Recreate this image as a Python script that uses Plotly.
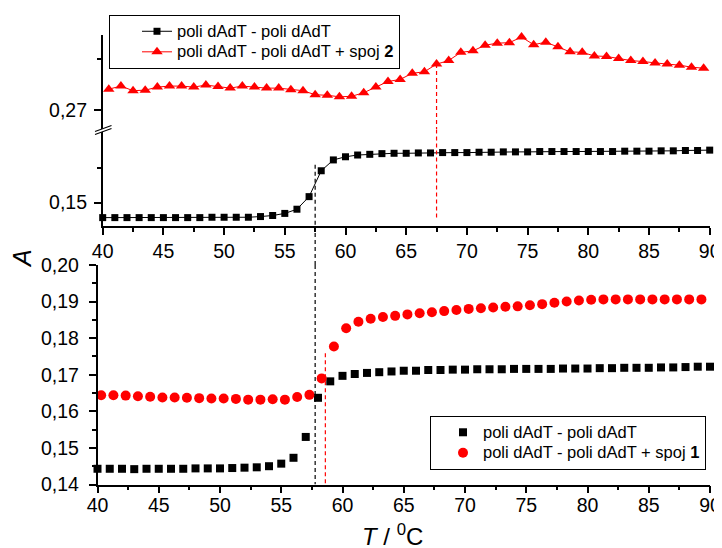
import plotly.graph_objects as go

# ---------------- data ----------------
# top panel: poli dAdT - poli dAdT (lower part of broken axis)
T_top_ds = [40, 41, 42, 43, 44, 45, 46, 47, 48, 49,
            50, 51, 52, 53, 54, 55, 56, 57, 58, 59,
            60, 61, 62, 63, 64, 65, 66, 67, 68, 69,
            70, 71, 72, 73, 74, 75, 76, 77, 78, 79,
            80, 81, 82, 83, 84, 85, 86, 87, 88, 89, 90]
A_top_ds = [0.1457, 0.1457, 0.1457, 0.1457, 0.1457, 0.1457, 0.1457, 0.1457, 0.1457, 0.1458,
            0.1458, 0.1458, 0.1458, 0.1460, 0.1463, 0.1469, 0.1481, 0.1517, 0.1591, 0.1622,
            0.1631, 0.1636, 0.1638, 0.1640, 0.1641, 0.1641, 0.1642, 0.1642, 0.1643, 0.1643,
            0.1643, 0.1644, 0.1644, 0.1645, 0.1645, 0.1645, 0.1646, 0.1646, 0.1646, 0.1646,
            0.1646, 0.1646, 0.1646, 0.1647, 0.1647, 0.1647, 0.1648, 0.1648, 0.1649, 0.1649, 0.1650]

# top panel: poli dAdT - poli dAdT + spoj 2 (upper part of broken axis)
T_top_c2 = [40.5, 41.5, 42.5, 43.5, 44.5, 45.5, 46.5, 47.5, 48.5, 49.5,
            50.5, 51.5, 52.5, 53.5, 54.5, 55.5, 56.5, 57.5, 58.5, 59.5,
            60.5, 61.5, 62.5, 63.5, 64.5, 65.5, 66.5, 67.5, 68.5, 69.5,
            70.5, 71.5, 72.5, 73.5, 74.5, 75.5, 76.5, 77.5, 78.5, 79.5,
            80.5, 81.5, 82.5, 83.5, 84.5, 85.5, 86.5, 87.5, 88.5, 89.5]
A_top_c2 = [0.2741, 0.2747, 0.2738, 0.2739, 0.2745, 0.2747, 0.2747, 0.2745, 0.2749, 0.2746,
            0.2743, 0.2747, 0.2745, 0.2743, 0.2743, 0.2740, 0.2738, 0.2730, 0.2729, 0.2726,
            0.2727, 0.2734, 0.2745, 0.2756, 0.2760, 0.2772, 0.2775, 0.2790, 0.2797, 0.2813,
            0.2816, 0.2827, 0.2831, 0.2832, 0.2843, 0.2828, 0.2833, 0.2824, 0.2814, 0.2813,
            0.2806, 0.2805, 0.2801, 0.2797, 0.2795, 0.2792, 0.2790, 0.2788, 0.2784, 0.2782]

# bottom panel: poli dAdT - poli dAdT
T_bot_ds = [40, 41, 42, 43, 44, 45, 46, 47, 48, 49,
            50, 51, 52, 53, 54, 55, 56, 57, 58, 59,
            60, 61, 62, 63, 64, 65, 66, 67, 68, 69,
            70, 71, 72, 73, 74, 75, 76, 77, 78, 79,
            80, 81, 82, 83, 84, 85, 86, 87, 88, 89, 90]
A_bot_ds = [0.1443, 0.1443, 0.1443, 0.1442, 0.1443, 0.1443, 0.1443, 0.1443, 0.1444, 0.1444,
            0.1444, 0.1445, 0.1446, 0.1447, 0.1450, 0.1457, 0.1473, 0.1530, 0.1637, 0.1682,
            0.1697, 0.1702, 0.1705, 0.1707, 0.1709, 0.1711, 0.1711, 0.1713, 0.1713, 0.1714,
            0.1714, 0.1715, 0.1715, 0.1715, 0.1716, 0.1716, 0.1716, 0.1716, 0.1717, 0.1717,
            0.1717, 0.1718, 0.1718, 0.1719, 0.1719, 0.1719, 0.1720, 0.1720, 0.1721, 0.1722, 0.1722]

# bottom panel: poli dAdT - poli dAdT + spoj 1
T_bot_c1 = [40.3, 41.3, 42.3, 43.3, 44.3, 45.3, 46.3, 47.3, 48.3, 49.3,
            50.3, 51.3, 52.3, 53.3, 54.3, 55.3, 56.3, 57.3, 58.3, 59.3,
            60.3, 61.3, 62.3, 63.3, 64.3, 65.3, 66.3, 67.3, 68.3, 69.3,
            70.3, 71.3, 72.3, 73.3, 74.3, 75.3, 76.3, 77.3, 78.3, 79.3,
            80.3, 81.3, 82.3, 83.3, 84.3, 85.3, 86.3, 87.3, 88.3, 89.3, 90.3]
A_bot_c1 = [0.1644, 0.1644, 0.1643, 0.1641, 0.1640, 0.1638, 0.1638, 0.1637, 0.1636, 0.1635,
            0.1635, 0.1634, 0.1632, 0.1632, 0.1633, 0.1632, 0.1639, 0.1645, 0.1690, 0.1777,
            0.1827, 0.1845, 0.1853, 0.1858, 0.1861, 0.1865, 0.1868, 0.1871, 0.1874, 0.1877,
            0.1880, 0.1882, 0.1884, 0.1886, 0.1887, 0.1890, 0.1893, 0.1897, 0.1900, 0.1903,
            0.1905, 0.1906, 0.1906, 0.1906, 0.1906, 0.1906, 0.1906, 0.1906, 0.1906, 0.1906, 0.1905]

# melting temperatures (dashed guide lines) and the A level where each guide starts/ends
Tm_top_ds, A_tm_top_ds = 57.5, 0.1608
Tm_top_c2, A_tm_top_c2_hi, A_tm_top_c2_lo = 67.5, 0.2790, 0.1457
Tm_bot_c1, A_tm_bot_c1 = 58.6, 0.1759

X_TICKS = [40, 45, 50, 55, 60, 65, 70, 75, 80, 85, 90]
Y_TICKS_BOT = [0.14, 0.15, 0.16, 0.17, 0.18, 0.19, 0.20]
Y_TICK_TOP_LOW = [0.15]
Y_TICK_TOP_HIGH = [0.27]

NAME_DS = "poli dAdT - poli dAdT"
NAME_C2 = "poli dAdT - poli dAdT + spoj <b>2</b>"
NAME_C1 = "poli dAdT - poli dAdT + spoj <b>1</b>"

# ---------------- layout helpers ----------------
W, H = 722, 548
OFF = 8  # the page body margin shifts the figure by 8 px
FONT = "Liberation Sans, Arial, sans-serif"


def fx(p):
    return (p - OFF) / W


def fy(p):
    return 1 - (p - OFF) / H


def leg(name):
    return '<span style="font-size:16.5px">' + name + '</span>'


X_TOP_DOM = [fx(102.7), fx(709.7)]
X_BOT_DOM = [fx(97.5), fx(710)]
Y_LOW_DOM = [fy(226), fy(129.5)]
Y_HIGH_DOM = [fy(129.5), fy(35)]
Y_BOT_DOM = [fy(484.5), fy(265)]

fig = go.Figure()

fig.add_trace(go.Scatter(
    x=T_top_ds, y=A_top_ds, xaxis="x", yaxis="y", name=leg(NAME_DS),
    mode="lines+markers", line=dict(color="black", width=1),
    marker=dict(symbol="square", size=7, color="black"),
    cliponaxis=False, legend="legend"))
fig.add_trace(go.Scatter(
    x=T_top_c2, y=A_top_c2, xaxis="x", yaxis="y3", name=leg(NAME_C2),
    mode="lines+markers", line=dict(color="red", width=1),
    marker=dict(symbol="triangle-up", size=10, color="red"),
    cliponaxis=False, legend="legend"))
fig.add_trace(go.Scatter(
    x=T_bot_ds, y=A_bot_ds, xaxis="x2", yaxis="y2", name=leg(NAME_DS),
    mode="markers", marker=dict(symbol="square", size=8, color="black"),
    cliponaxis=False, legend="legend2"))
fig.add_trace(go.Scatter(
    x=T_bot_c1, y=A_bot_c1, xaxis="x2", yaxis="y2", name=leg(NAME_C1),
    mode="markers", marker=dict(symbol="circle", size=10, color="red"),
    cliponaxis=False, legend="legend2"))

tickfont = dict(family=FONT, size=19.5, color="black")
common = dict(showline=True, linecolor="black", linewidth=1.5, ticks="outside",
              ticklen=7, tickwidth=1.5, tickcolor="black", showgrid=False,
              zeroline=False, tickfont=tickfont, automargin=False)
xcommon = dict(common, range=[40, 90], tickmode="array", tickvals=X_TICKS,
               minor=dict(dtick=2.5, tick0=40, ticks="outside", ticklen=4,
                          tickwidth=1.5, tickcolor="black", showgrid=False))

fig.update_layout(
    template="none",
    width=W, height=H, margin=dict(l=0, r=0, t=0, b=0, autoexpand=False),
    paper_bgcolor="white", plot_bgcolor="white",
    separators=",.",
    font=dict(family=FONT, color="black"),
    xaxis=dict(xcommon, domain=X_TOP_DOM, anchor="y"),
    xaxis2=dict(xcommon, domain=X_BOT_DOM, anchor="y2", ticklabelstandoff=-5),
    yaxis=dict(common, domain=Y_LOW_DOM, anchor="x", range=[0.1433, 0.1709],
               tickmode="array", tickvals=Y_TICK_TOP_LOW, tickformat=".2f",
               ticklabelstandoff=3,
               minor=dict(tickmode="array", tickvals=[0.16], ticks="outside",
                          ticklen=4, tickwidth=1.5, tickcolor="black")),
    yaxis3=dict(common, domain=Y_HIGH_DOM, anchor="x", range=[0.2662, 0.2847],
                tickmode="array", tickvals=Y_TICK_TOP_HIGH, tickformat=".2f",
                ticklabelstandoff=3,
                minor=dict(tickmode="array", tickvals=[0.28], ticks="outside",
                           ticklen=4, tickwidth=1.5, tickcolor="black")),
    yaxis2=dict(common, domain=Y_BOT_DOM, anchor="x2", range=[0.14, 0.20],
                tickmode="array", tickvals=Y_TICKS_BOT, tickformat=".2f",
                ticklabelstandoff=6,
                minor=dict(dtick=0.005, tick0=0.14, ticks="outside", ticklen=4,
                           tickwidth=1.5, tickcolor="black", showgrid=False)),
    legend=dict(x=fx(109), y=fy(15), xanchor="left", yanchor="top",
                bordercolor="black", borderwidth=1, bgcolor="white",
                font=dict(family=FONT, size=13.5, color="black"),
                indentation=27, tracegroupgap=0, itemwidth=30,
                entrywidth=250, entrywidthmode="pixels"),
    legend2=dict(x=fx(430), y=fy(416), xanchor="left", yanchor="top",
                 bordercolor="black", borderwidth=1, bgcolor="white",
                 font=dict(family=FONT, size=13.5, color="black"),
                 indentation=12, tracegroupgap=0, itemwidth=30,
                 entrywidth=230, entrywidthmode="pixels"),
    showlegend=True,
)

dash_black = dict(color="black", width=1.2, dash="4px,3px")
dash_red = dict(color="red", width=1.2, dash="4px,3px")

shapes = [
    # black guide: top panel -> gap -> bottom panel
    dict(type="line", xref="x", yref="y", x0=Tm_top_ds, x1=Tm_top_ds,
         y0=A_tm_top_ds, y1=0.1433, line=dash_black),
    dict(type="line", xref="x", yref="paper", x0=Tm_top_ds, x1=Tm_top_ds,
         y0=Y_LOW_DOM[0], y1=Y_BOT_DOM[1], line=dash_black),
    dict(type="line", xref="x", yref="y2", x0=Tm_top_ds, x1=Tm_top_ds,
         y0=0.20, y1=0.14, line=dash_black),
    # red guide in the top panel (crosses the break)
    dict(type="line", xref="x", yref="y3", x0=Tm_top_c2, x1=Tm_top_c2,
         y0=A_tm_top_c2_hi, y1=0.2662, line=dash_red),
    dict(type="line", xref="x", yref="y", x0=Tm_top_c2, x1=Tm_top_c2,
         y0=0.1709, y1=A_tm_top_c2_lo, line=dash_red),
    # red guide in the bottom panel
    dict(type="line", xref="x2", yref="y2", x0=Tm_bot_c1, x1=Tm_bot_c1,
         y0=A_tm_bot_c1, y1=0.14, line=dash_red),
    # axis break marks
    dict(type="path", xref="paper", yref="paper",
         path=f"M {fx(95)} {fy(131.5)} L {fx(111.5)} {fy(125.5)} L {fx(111.5)} {fy(128.5)} L {fx(95)} {fy(134.5)} Z",
         fillcolor="white", line=dict(width=0), layer="above"),
    dict(type="line", xref="paper", yref="paper", x0=fx(95), y0=fy(131.5),
         x1=fx(111.5), y1=fy(125.5), line=dict(color="black", width=1.2)),
    dict(type="line", xref="paper", yref="paper", x0=fx(95), y0=fy(134.5),
         x1=fx(111.5), y1=fy(128.5), line=dict(color="black", width=1.2)),
]
fig.update_layout(shapes=shapes)

fig.add_annotation(text="<i>A</i>", xref="paper", yref="paper", x=fx(22), y=fy(258),
                   xanchor="center", yanchor="middle",
                   textangle=-90, showarrow=False,
                   font=dict(family=FONT, size=25, color="black"))
fig.add_annotation(text="<i>T</i> / <sup>0</sup>C", xref="paper", yref="paper",
                   x=fx(392), y=fy(535), xanchor="center", yanchor="middle",
                   showarrow=False,
                   font=dict(family=FONT, size=24, color="black"))

fig.write_html("out.html")
